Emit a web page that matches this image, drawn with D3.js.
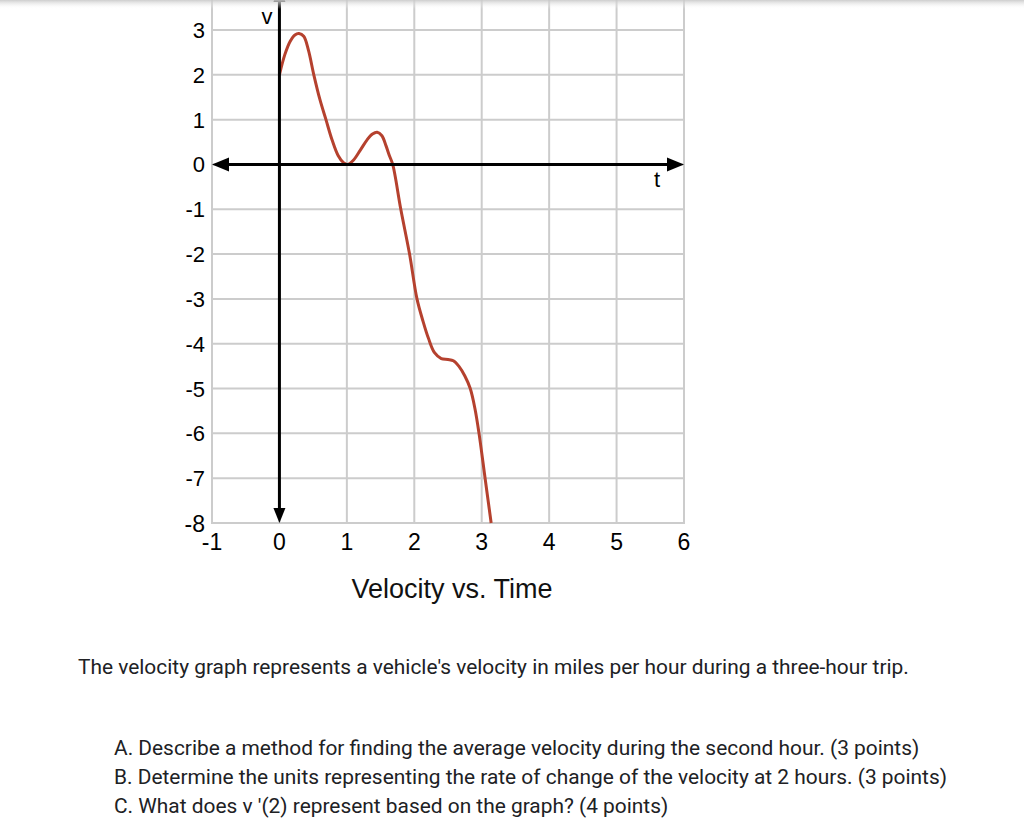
<!DOCTYPE html>
<html>
<head>
<meta charset="utf-8">
<script src="https://cdn.jsdelivr.net/npm/d3@7"></script>
<style>
  html, body { margin: 0; padding: 0; background: #fff; }
  svg { display: block; }
</style>
</head>
<body>
<svg id="chart" width="1024" height="837"></svg>
<script>
// ---- data ----
const xTicks = [-1, 0, 1, 2, 3, 4, 5, 6];
const yTicks = [-8, -7, -6, -5, -4, -3, -2, -1, 0, 1, 2, 3];
const tValues = [0, 0.08, 0.16, 0.23, 0.29, 0.36, 0.43, 0.51, 0.6, 0.69, 0.78, 0.87, 0.95, 1.01, 1.1, 1.2, 1.3, 1.38, 1.45, 1.52, 1.58, 1.63, 1.68, 1.8, 1.93, 2.04, 2.13, 2.21, 2.3, 2.4, 2.5, 2.58, 2.66, 2.75, 2.83, 2.9, 2.96, 3.05, 3.14];
const vValues = [2.0, 2.45, 2.75, 2.89, 2.92, 2.86, 2.55, 2.0, 1.45, 1.0, 0.55, 0.2, 0.04, 0.0, 0.1, 0.32, 0.55, 0.68, 0.72, 0.64, 0.42, 0.2, 0.0, -1.0, -2.0, -3.0, -3.5, -3.88, -4.2, -4.33, -4.35, -4.38, -4.5, -4.72, -5.0, -5.45, -6.0, -7.0, -8.0];
const chartTitle = "Velocity vs. Time";
const xLabel = "t";
const yLabel = "v";
const paragraph = "The velocity graph represents a vehicle's velocity in miles per hour during a three-hour trip.";
const questions = [
  "A. Describe a method for finding the average velocity during the second hour. (3 points)",
  "B. Determine the units representing the rate of change of the velocity at 2 hours. (3 points)",
  "C. What does v '(2) represent based on the graph? (4 points)"
];

const svg = d3.select("#chart");
const x = d3.scaleLinear().domain([-1, 6]).range([212, 684]);
const y = d3.scaleLinear().domain([-8, 3]).range([523, 30]);

const gridColor = "#cccccc";
const chartFont = "'Liberation Sans', Arial, Helvetica, sans-serif";

// grid
const grid = svg.append("g");
grid.selectAll("line.v").data(xTicks).enter().append("line")
  .attr("x1", d => x(d)).attr("x2", d => x(d))
  .attr("y1", 0).attr("y2", y(-8))
  .attr("stroke", gridColor).attr("stroke-width", 2);
grid.selectAll("line.h").data(yTicks).enter().append("line")
  .attr("x1", x(-1) - 1).attr("x2", x(6) + 1)
  .attr("y1", d => y(d)).attr("y2", d => y(d))
  .attr("stroke", gridColor).attr("stroke-width", 2);

// curve
const pts = tValues.map((t, i) => [t, vValues[i]]);
const line = d3.line().x(d => x(d[0])).y(d => y(d[1])).curve(d3.curveCatmullRom.alpha(0.5));
svg.append("path").datum(pts)
  .attr("d", line)
  .attr("fill", "none")
  .attr("stroke", "#b5412e")
  .attr("stroke-width", 3)
  .attr("stroke-linecap", "butt")
  .attr("stroke-linejoin", "round");

// axes
const axisG = svg.append("g");
axisG.append("line")
  .attr("x1", x(-1) + 12).attr("x2", x(6) - 12)
  .attr("y1", y(0)).attr("y2", y(0))
  .attr("stroke", "#000").attr("stroke-width", 3);
axisG.append("line")
  .attr("x1", x(0)).attr("x2", x(0))
  .attr("y1", -20).attr("y2", y(-8) - 10)
  .attr("stroke", "#000").attr("stroke-width", 3);
// arrowheads
const tri = (p) => "M" + p.map(q => q.join(",")).join("L") + "Z";
axisG.append("path").attr("d", tri([[x(-1), y(0)], [x(-1) + 17, y(0) - 7], [x(-1) + 17, y(0) + 7]])).attr("fill", "#000");
axisG.append("path").attr("d", tri([[x(6), y(0)], [x(6) - 17, y(0) - 7], [x(6) - 17, y(0) + 7]])).attr("fill", "#000");
axisG.append("path").attr("d", tri([[x(0), y(-8)], [x(0) - 6, y(-8) - 15], [x(0) + 6, y(-8) - 15]])).attr("fill", "#000");
axisG.append("path").attr("d", tri([[x(0), y(3) - 45], [x(0) - 6, y(3) - 28], [x(0) + 6, y(3) - 28]])).attr("fill", "#000");

// tick labels
svg.append("g").selectAll("text").data(yTicks).enter().append("text")
  .attr("x", 205).attr("y", d => d === -8 ? y(d) + 9 : y(d) + 8)
  .attr("text-anchor", "end")
  .attr("font-family", chartFont).attr("font-size", d => d === -8 ? 23 : 22).attr("fill", "#000")
  .text(d => d);
svg.append("g").selectAll("text").data(xTicks).enter().append("text")
  .attr("x", d => x(d)).attr("y", 550)
  .attr("text-anchor", "middle")
  .attr("font-family", chartFont).attr("font-size", 23).attr("fill", "#000")
  .text(d => d);

svg.append("text").attr("x", 267).attr("y", 24).attr("text-anchor", "middle")
  .attr("font-family", chartFont).attr("font-size", 22).text(yLabel);
svg.append("text").attr("x", 657).attr("y", 187).attr("text-anchor", "middle")
  .attr("font-family", chartFont).attr("font-size", 22).text(xLabel);

svg.append("text").attr("x", 452).attr("y", 598).attr("text-anchor", "middle")
  .attr("font-family", chartFont).attr("font-size", 27).attr("fill", "#111").text(chartTitle);

// paragraph
const bodyFont = "Roboto, 'Noto Sans', sans-serif";
svg.append("text").attr("x", 78).attr("y", 674)
  .attr("font-family", bodyFont).attr("font-size", 20.9).attr("fill", "#202124").text(paragraph);
svg.append("g").selectAll("text").data(questions).enter().append("text")
  .attr("x", 114).attr("y", (d, i) => 755 + i * 29)
  .attr("font-family", bodyFont).attr("font-size", 20.9).attr("fill", "#202124")
  .text(d => d);

// top shadow band
const defs = svg.append("defs");
const grad = defs.append("linearGradient").attr("id", "shade").attr("x1", 0).attr("x2", 0).attr("y1", 0).attr("y2", 1);
grad.append("stop").attr("offset", "0%").attr("stop-color", "#c8c8c8").attr("stop-opacity", 0.9);
grad.append("stop").attr("offset", "100%").attr("stop-color", "#ffffff").attr("stop-opacity", 0);
svg.append("rect").attr("x", 0).attr("y", 0).attr("width", 1024).attr("height", 9).attr("fill", "url(#shade)");
</script>
</body>
</html>
